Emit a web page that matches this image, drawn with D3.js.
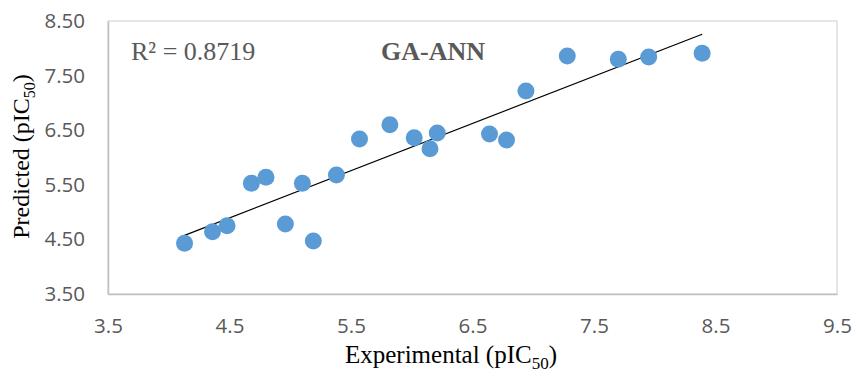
<!DOCTYPE html>
<html>
<head>
<meta charset="utf-8">
<script src="https://cdn.jsdelivr.net/npm/d3@7"></script>
<style>
  html, body { margin: 0; padding: 0; background: #fff; }
  svg { display: block; }
</style>
</head>
<body>
<svg id="chart" width="856" height="376"></svg>
<script>
// Experimental vs predicted activity (GA-ANN model)
const experimental = [4.13, 4.36, 4.48, 4.68, 4.80, 4.96, 5.10, 5.19, 5.38, 5.57, 5.82,
                      6.02, 6.15, 6.21, 6.64, 6.78, 6.94, 7.28, 7.70, 7.95, 8.39];
const predicted    = [4.43, 4.64, 4.75, 5.53, 5.64, 4.78, 5.53, 4.47, 5.68, 6.34, 6.60,
                      6.36, 6.16, 6.45, 6.43, 6.32, 7.22, 7.86, 7.80, 7.84, 7.91];
const xTicks = [3.5, 4.5, 5.5, 6.5, 7.5, 8.5, 9.5];
const yTicks = [3.5, 4.5, 5.5, 6.5, 7.5, 8.5];
const r2Label = "R² = 0.8719";
const modelLabel = "GA-ANN";

const W = 856, H = 376;
const margin = { top: 21, right: 19, bottom: 82, left: 108 };
const iw = W - margin.left - margin.right;
const ih = H - margin.top - margin.bottom;

const svg = d3.select("#chart");
const g = svg.append("g").attr("transform", `translate(${margin.left},${margin.top})`);

const x = d3.scaleLinear().domain([3.5, 9.5]).range([0, iw]);
const y = d3.scaleLinear().domain([3.5, 8.5]).range([ih, 0]);

// plot area border
g.append("rect")
  .attr("x", 0).attr("y", 0).attr("width", iw).attr("height", ih)
  .attr("fill", "none").attr("stroke", "#D9D9D9").attr("stroke-width", 1.3);

const tickFont = "'Open Sans', sans-serif";

// axes (labels only, axis line drawn in grey)
const xAxis = g.append("g").attr("transform", `translate(0,${ih})`)
  .call(d3.axisBottom(x).tickValues(xTicks).tickSize(0).tickPadding(24).tickFormat(d3.format(".1f")));
xAxis.select(".domain").attr("stroke", "#BFBFBF").attr("stroke-width", 1.5);
xAxis.selectAll("text").attr("fill", "#595959").style("font-family", tickFont).style("font-size", "20.5px");

const yAxis = g.append("g")
  .call(d3.axisLeft(y).tickValues(yTicks).tickSize(0).tickPadding(23).tickFormat(d3.format(".2f")));
yAxis.select(".domain").attr("stroke", "#BFBFBF").attr("stroke-width", 1.5);
yAxis.selectAll("text").attr("fill", "#595959").style("font-family", tickFont).style("font-size", "20.5px");

// linear trendline over the data range
const n = experimental.length;
const mx = d3.mean(experimental), my = d3.mean(predicted);
let sxy = 0, sxx = 0;
for (let i = 0; i < n; i++) {
  sxy += (experimental[i] - mx) * (predicted[i] - my);
  sxx += (experimental[i] - mx) ** 2;
}
const slope = sxy / sxx, intercept = my - slope * mx;
const x0 = d3.min(experimental), x1 = d3.max(experimental);
g.append("line")
  .attr("x1", x(x0)).attr("y1", y(intercept + slope * x0))
  .attr("x2", x(x1)).attr("y2", y(intercept + slope * x1))
  .attr("stroke", "#000").attr("stroke-width", 1.3);

// points
g.selectAll("circle.pt")
  .data(experimental.map((v, i) => [v, predicted[i]]))
  .join("circle")
  .attr("class", "pt")
  .attr("cx", d => x(d[0])).attr("cy", d => y(d[1]))
  .attr("r", 8.5)
  .attr("fill", "#5B9BD5");

const serif = "'Liberation Serif', 'Times New Roman', serif";

// annotations
svg.append("text")
  .attr("x", 131).attr("y", 60)
  .attr("fill", "#595959")
  .style("font-family", serif)
  .style("font-size", "26px")
  .text(r2Label);

svg.append("text")
  .attr("x", 381).attr("y", 60)
  .attr("fill", "#595959")
  .style("font-family", serif)
  .style("font-size", "26px").style("font-weight", "bold")
  .text(modelLabel);

// axis titles
const xt = svg.append("text")
  .attr("x", 451).attr("y", 363)
  .attr("text-anchor", "middle")
  .attr("fill", "#000")
  .style("font-family", serif).style("font-size", "25px");
xt.append("tspan").text("Experimental (pIC");
xt.append("tspan").attr("dy", 6).style("font-size", "17px").text("50");
xt.append("tspan").attr("dy", -6).text(")");

const yt = svg.append("text")
  .attr("transform", `translate(29,${margin.top + ih / 2 - 1}) rotate(-90)`)
  .attr("text-anchor", "middle")
  .attr("fill", "#000")
  .style("font-family", serif).style("font-size", "24px");
yt.append("tspan").text("Predicted (pIC");
yt.append("tspan").attr("dy", 6).style("font-size", "16px").text("50");
yt.append("tspan").attr("dy", -6).text(")");
</script>
</body>
</html>
